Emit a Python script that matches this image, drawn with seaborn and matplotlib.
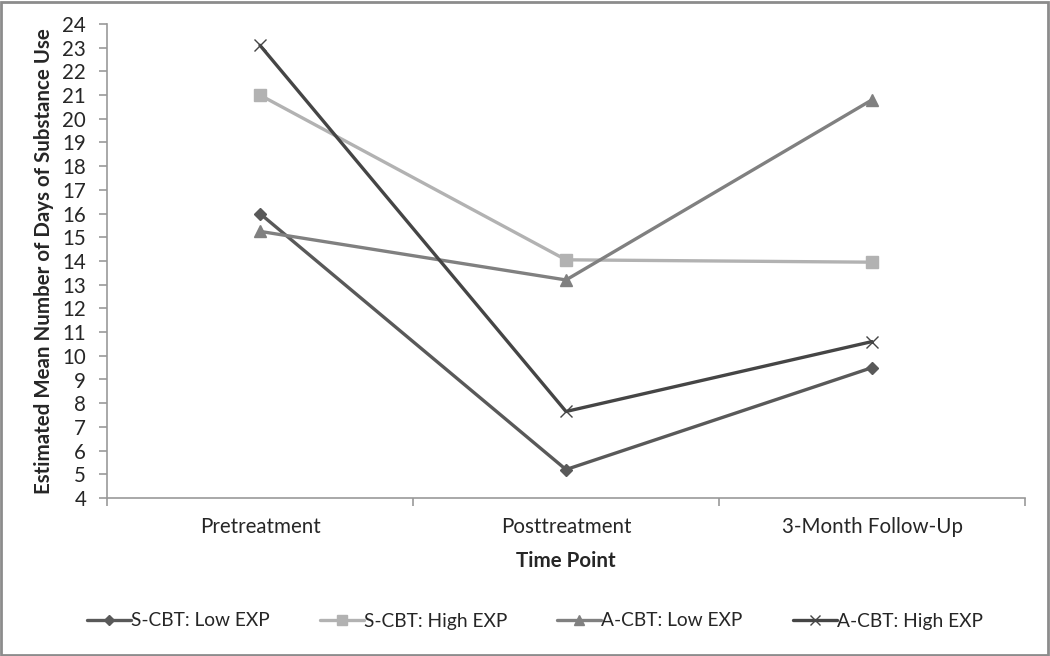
import matplotlib
matplotlib.use("Agg")
import matplotlib.pyplot as plt
import seaborn as sns
import pandas as pd
import numpy as np

time_points = ["Pretreatment", "Posttreatment", "3-Month Follow-Up"]
groups = ["S-CBT: Low EXP", "S-CBT: High EXP", "A-CBT: Low EXP", "A-CBT: High EXP"]
s_cbt_low = [16.0, 5.2, 9.5]
s_cbt_high = [21.0, 14.05, 13.95]
a_cbt_low = [15.25, 13.2, 20.8]
a_cbt_high = [23.1, 7.65, 10.6]
y_ticks = list(range(4, 25))

series = [s_cbt_low, s_cbt_high, a_cbt_low, a_cbt_high]
rows = []
for g, vals in zip(groups, series):
    for i, (t, v) in enumerate(zip(time_points, vals)):
        rows.append({"group": g, "idx": i, "time": t, "value": v})
df = pd.DataFrame(rows)

sns.set_theme(style="white")
plt.rcParams["font.family"] = ["Lato", "DejaVu Sans"]

colors = {groups[0]: "#595959", groups[1]: "#b2b2b2", groups[2]: "#808080", groups[3]: "#454545"}
markers = {groups[0]: "D", groups[1]: "s", groups[2]: "^", groups[3]: "x"}
msizes = {groups[0]: 6.5, groups[1]: 8.5, groups[2]: 8.5, groups[3]: 9}

FS = 14.8
LFS = 13.8

fig = plt.figure(figsize=(10.5, 6.56), dpi=100)
ax = fig.add_axes([107/1050, 1-498/656, (1025-107)/1050, (498-24)/656])

for g in groups:
    sub = df[df["group"] == g]
    sns.lineplot(data=sub, x="idx", y="value", color=colors[g], marker=markers[g],
                 markersize=msizes[g], markeredgewidth=1.0,
                 markeredgecolor=colors[g], linewidth=2.4, label=g, ax=ax)

ax.set_xlim(-0.5, 2.5)
ax.set_ylim(4, 24)
ax.set_yticks(y_ticks)
ax.set_yticklabels([str(t) for t in y_ticks], fontsize=FS)
ax.set_xticks(range(len(time_points)))
ax.set_xticklabels(time_points, fontsize=FS)
ax.set_xticks([-0.5, 0.5, 1.5, 2.5], minor=True)
ax.tick_params(axis="x", which="major", length=0, pad=14)
ax.tick_params(axis="x", which="minor", length=6, color="#999999", width=1.2, direction="out", bottom=True)
ax.tick_params(axis="y", which="major", length=6, color="#999999", width=1.2, direction="out", left=True, pad=9)

for s in ["top", "right"]:
    ax.spines[s].set_visible(False)
for s in ["left", "bottom"]:
    ax.spines[s].set_color("#999999")
    ax.spines[s].set_linewidth(1.2)

ax.set_xlabel("Time Point", fontsize=FS, fontweight="bold", labelpad=10)
ax.set_ylabel("Estimated Mean Number of Days of Substance Use", fontsize=FS, fontweight="bold", labelpad=6)

sns.move_legend(ax, "center", bbox_to_anchor=(0.5095, 1 - 621/656), bbox_transform=fig.transFigure,
                ncol=4, frameon=False, title=None, fontsize=LFS,
                handlelength=2.3, handletextpad=0.0, columnspacing=2.6)
for h in ax.get_legend().legend_handles:
    h.set_markersize(h.get_markersize() * 0.8)

fig.patches.append(plt.Rectangle((0.001, 0.0015), 0.997, 0.996, transform=fig.transFigure,
                                 fill=False, edgecolor="#8c8c8c", linewidth=2.0))

fig.savefig("out.png", dpi=100, facecolor="white")
